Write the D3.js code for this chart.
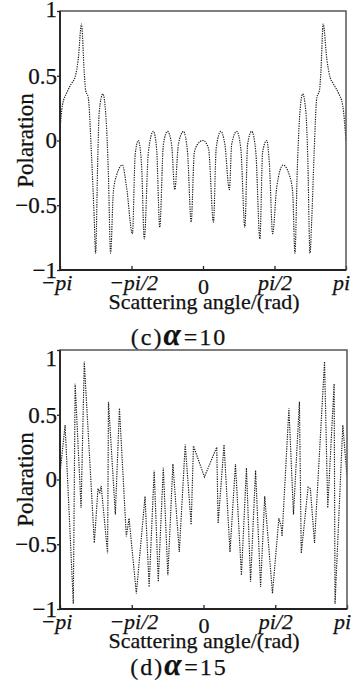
<!DOCTYPE html>
<html>
<head>
<meta charset="utf-8">
<script src="https://cdn.jsdelivr.net/npm/d3@7"></script>
<style>
  html, body { margin: 0; padding: 0; background: #fff; }
  svg { display: block; }
  text { font-family: "Liberation Serif", "DejaVu Serif", serif; fill: #111; stroke: #111; stroke-width: 0.25px; }
</style>
</head>
<body>
<div id="chart"></div>
<script>
// scattering angle (rad) and polarisation, alpha = 10
const angle10 = [-3.14, -3.09, -2.99, -2.89, -2.81, -2.74, -2.67, -2.61, -2.58, -2.52, -2.45, -2.39, -2.36, -2.31, -2.28, -2.20, -2.13, -2.08, -2.03, -1.97, -1.90, -1.77, -1.68, -1.55, -1.49, -1.42, -1.35, -1.29, -1.20, -1.09, -1.02, -0.95, -0.87, -0.78, -0.69, -0.62, -0.54, -0.43, -0.34, -0.26, -0.19, -0.07, 0.00, 0.12, 0.23, 0.29, 0.39, 0.48, 0.58, 0.63, 0.74, 0.83, 0.92, 0.98, 1.07, 1.16, 1.25, 1.31, 1.40, 1.46, 1.53, 1.62, 1.76, 1.90, 1.97, 2.02, 2.07, 2.12, 2.19, 2.26, 2.30, 2.35, 2.39, 2.44, 2.50, 2.56, 2.59, 2.64, 2.72, 2.79, 2.86, 2.97, 3.07, 3.14];
const polar10 = [0.09, 0.27, 0.37, 0.44, 0.49, 0.63, 0.90, 0.53, 0.39, 0.33, -0.11, -0.60, -0.87, -0.11, 0.22, 0.36, 0.17, -0.24, -0.87, -0.40, -0.27, -0.19, -0.36, -0.72, -0.11, 0.00, -0.19, -0.76, -0.09, 0.07, -0.06, -0.67, -0.03, 0.07, -0.03, -0.38, -0.03, 0.07, -0.09, -0.63, -0.09, -0.01, 0.00, -0.06, -0.63, -0.06, 0.07, -0.03, -0.38, -0.03, 0.07, -0.06, -0.67, -0.03, 0.07, -0.09, -0.76, -0.09, 0.00, -0.19, -0.72, -0.36, -0.19, -0.27, -0.40, -0.87, -0.24, 0.17, 0.36, 0.22, -0.11, -0.87, -0.60, -0.11, 0.33, 0.39, 0.53, 0.90, 0.63, 0.49, 0.44, 0.37, 0.27, 0.00];

// alpha = 15
const angle15 = [-3.14, -3.03, -2.85, -2.81, -2.68, -2.61, -2.39, -2.31, -2.27, -2.24, -2.10, -2.08, -1.93, -1.84, -1.69, -1.63, -1.47, -1.28, -1.19, -1.08, -0.99, -0.88, -0.78, -0.67, -0.53, -0.40, -0.27, -0.22, 0.02, 0.29, 0.32, 0.45, 0.58, 0.70, 0.83, 0.94, 1.03, 1.14, 1.25, 1.34, 1.51, 1.65, 1.70, 1.72, 1.87, 1.97, 2.10, 2.14, 2.29, 2.34, 2.43, 2.65, 2.72, 2.86, 2.88, 3.05, 3.14];
const polar15 = [0.05, 0.42, -0.96, 0.74, -0.22, 0.91, -0.49, -0.07, -0.10, -0.05, -0.57, 0.60, -0.27, 0.55, -0.44, -0.30, -0.88, -0.13, -0.83, 0.07, -0.79, 0.09, -0.74, 0.12, -0.56, 0.27, -0.35, 0.26, 0.02, 0.25, -0.34, 0.27, -0.56, 0.12, -0.74, 0.09, -0.79, 0.07, -0.83, -0.13, -0.88, -0.30, -0.36, -0.44, 0.55, -0.27, 0.60, -0.57, -0.06, -0.07, -0.49, 0.91, -0.22, 0.74, -0.96, 0.42, 0.03];

const xTickValues = [-Math.PI, -Math.PI / 2, 0, Math.PI / 2, Math.PI];
const xTickLabels = ["\u2212pi", "\u2212pi/2", "0", "pi/2", "pi"];
const yTickValues = [-1, -0.5, 0, 0.5, 1];
const yTickLabels = ["\u22121", "\u22120.5", "0", "0.5", "1"];
const panelTags = ["(c)", "(d)"];
const alphaValues = [10, 15];

const width = 352, height = 681;

const svg = d3.select("#chart").append("svg")
  .attr("width", width)
  .attr("height", height);

const panels = [
  { x: angle10, y: polar10, left: 60, right: 346, top: 11, bottom: 270, curve: d3.curveMonotoneX, captionY: 345, oneDy: -1.6 },
  { x: angle15, y: polar15, left: 60, right: 347, top: 350, bottom: 609, curve: d3.curveLinear, captionY: 675, oneDy: 7.6 }
];

// little nudges so the end labels sit like the original
const xLabelDx = [-4, 1.5, 0, 0, -5];

panels.forEach((p, i) => {
  const xScale = d3.scaleLinear().domain([-Math.PI, Math.PI]).range([p.left, p.right]);
  const yScale = d3.scaleLinear().domain([-1, 1]).range([p.bottom, p.top]);

  const g = svg.append("g");

  // clip for the curve
  const clipId = "clip" + i;
  svg.append("clipPath").attr("id", clipId)
    .append("rect")
    .attr("x", p.left).attr("y", p.top)
    .attr("width", p.right - p.left).attr("height", p.bottom - p.top);

  const line = d3.line()
    .x(d => xScale(d[0]))
    .y(d => yScale(d[1]))
    .curve(p.curve);

  const pts = p.x.map((a, k) => [a, p.y[k]]);

  g.append("path")
    .datum(pts)
    .attr("clip-path", `url(#${clipId})`)
    .attr("d", line)
    .attr("fill", "none")
    .attr("stroke", "#1a1a1a")
    .attr("stroke-width", 1.15)
    .attr("stroke-dasharray", "1.3,1.1");

  // x axis (ticks inside)
  const xAxis = d3.axisBottom(xScale)
    .tickValues(xTickValues)
    .tickSizeInner(-4)
    .tickSizeOuter(0)
    .tickFormat((d, k) => xTickLabels[k]);

  const gx = g.append("g")
    .attr("transform", `translate(0,${p.bottom})`)
    .call(xAxis);
  gx.select(".domain").remove();
  gx.selectAll(".tick line").attr("stroke", "#222").attr("stroke-width", 1.3);
  gx.selectAll(".tick text")
    .attr("fill", "#111")
    .attr("font-family", "'Liberation Serif', serif")
    .attr("font-size", 22)
    .attr("font-style", (d, k) => xTickLabels[k] === "0" ? "normal" : "italic")
    .attr("dy", null)
    .attr("y", (d, k) => xTickLabels[k] === "0" ? 24 : 19.5)
    .attr("dx", (d, k) => xLabelDx[k]);

  // y axis (ticks outside)
  const yAxis = d3.axisLeft(yScale)
    .tickValues(yTickValues)
    .tickSizeInner(3)
    .tickSizeOuter(0)
    .tickPadding(0)
    .tickFormat((d, k) => yTickLabels[k]);

  const gy = g.append("g")
    .attr("transform", `translate(${p.left},0)`)
    .call(yAxis);
  gy.select(".domain").remove();
  gy.selectAll(".tick line").attr("stroke", "#222").attr("stroke-width", 1.3);
  gy.selectAll(".tick text")
    .attr("fill", "#111")
    .attr("font-family", "'Liberation Serif', serif")
    .attr("font-size", 23)
    .attr("dy", (d) => d === 1 ? (7.4 + p.oneDy) + "px" : "0.32em");

  // frame
  g.append("rect")
    .attr("x", p.left).attr("y", p.top)
    .attr("width", p.right - p.left).attr("height", p.bottom - p.top)
    .attr("fill", "none")
    .attr("stroke", "#555")
    .attr("stroke-width", 1.5);
  g.append("path")
    .attr("d", `M${p.left},${p.top}V${p.bottom}H${p.right}`)
    .attr("fill", "none")
    .attr("stroke", "#222")
    .attr("stroke-width", 1.8);

  // axis titles
  g.append("text")
    .attr("transform", `translate(33,${(p.top + p.bottom) / 2}) rotate(-90)`)
    .attr("text-anchor", "middle")
    .attr("font-size", 23)
    .text("Polaration");

  g.append("text")
    .attr("x", 204)
    .attr("y", p.bottom + 39)
    .attr("text-anchor", "middle")
    .attr("font-size", 22)
    .text("Scattering angle/(rad)");

  const cap = g.append("text")
    .attr("x", 179)
    .attr("y", p.captionY)
    .attr("text-anchor", "middle")
    .attr("font-size", 24)
    .attr("letter-spacing", 2);
  cap.append("tspan").text(panelTags[i]);
  cap.append("tspan").attr("font-style", "italic").attr("font-size", 31).attr("font-weight", "bold").text("\u03b1");
  cap.append("tspan").attr("dx", 1).text("=" + alphaValues[i]);
});
</script>
</body>
</html>
